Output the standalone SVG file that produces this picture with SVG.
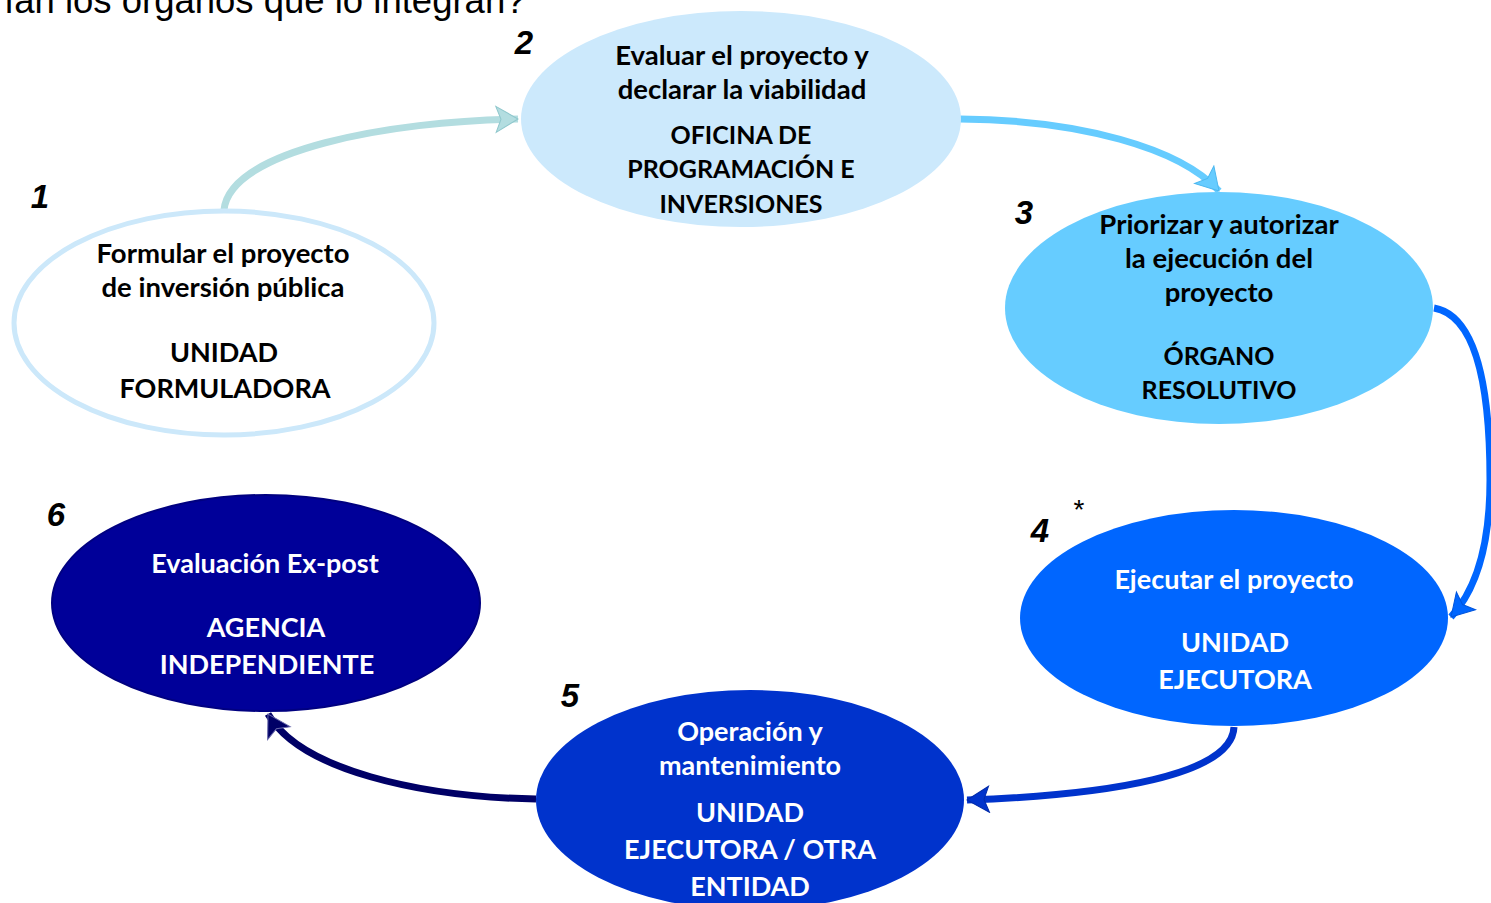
<svg xmlns="http://www.w3.org/2000/svg" width="1491" height="903" viewBox="0 0 1491 903">
<style>
.t{font-family:Lato,"Open Sans","Noto Sans",sans-serif;font-weight:bold;text-anchor:middle;font-size:27.5px}
.s{font-size:25px}
.b{font-size:27px}
.w27{font-size:27px}
.k{fill:#000}
.w{fill:#fff}
.n{font-family:"Liberation Sans",Arial,sans-serif;font-weight:bold;font-style:italic;font-size:33px;fill:#000;text-anchor:middle}
.c{fill:none;stroke-width:7}
</style>
<defs>
<marker id="a1" markerUnits="userSpaceOnUse" markerWidth="32" markerHeight="32" refX="24" refY="14" orient="auto"><path d="M2,1 L24,14 L2,27 L7,14 Z" fill="#B3DDE0" stroke="#8FC7CC" stroke-width="1"/></marker>
<marker id="a2" markerUnits="userSpaceOnUse" markerWidth="32" markerHeight="32" refX="24" refY="14" orient="auto"><path d="M2,1 L24,14 L2,27 L7,14 Z" fill="#66CCFF" stroke="#4DB8F0" stroke-width="1"/></marker>
<marker id="a3" markerUnits="userSpaceOnUse" markerWidth="32" markerHeight="32" refX="24" refY="14" orient="auto"><path d="M2,1 L24,14 L2,27 L7,14 Z" fill="#0066FF" stroke="#0055DD" stroke-width="1"/></marker>
<marker id="a4" markerUnits="userSpaceOnUse" markerWidth="32" markerHeight="32" refX="24" refY="14" orient="auto"><path d="M2,1 L24,14 L2,27 L7,14 Z" fill="#0033CC" stroke="#002AAA" stroke-width="1"/></marker>
<marker id="a5" markerUnits="userSpaceOnUse" markerWidth="32" markerHeight="32" refX="24" refY="14" orient="auto"><path d="M2,1 L24,14 L2,27 L7,14 Z" fill="#000066" stroke="#6666AA" stroke-width="1"/></marker>
</defs>
<rect width="1491" height="903" fill="#fff"/>
<text x="4" y="13" font-family="Liberation Sans,Arial,sans-serif" font-size="36.5" fill="#000">ían los órganos que lo integran?</text>

<g id="connectors">
<path class="c" stroke="#B3DDE0" d="M224,210 C230,150 390,121 518,119" marker-end="url(#a1)"/>
<path class="c" stroke="#66CCFF" d="M960,119 C1080,120 1180,148 1219,191" marker-end="url(#a2)"/>
<path class="c" stroke="#0066FF" d="M1434,308 C1480,316 1490,400 1490,480 C1490,545 1476,590 1451,617" marker-end="url(#a3)"/>
<path class="c" stroke="#0033CC" d="M1234,727 C1232,775 1110,795 967,800" marker-end="url(#a4)"/>
<path class="c" stroke="#000066" d="M536,799 C420,797 300,770 268,714" marker-end="url(#a5)"/>
</g>

<g id="node1">
<ellipse cx="224" cy="323" rx="210" ry="112" fill="#fff" stroke="#CCE8FA" stroke-width="5"/>
<text class="t k" x="223" y="263">Formular el proyecto</text>
<text class="t k" x="223" y="297">de inversión pública</text>
<text class="t b k" x="224" y="362">UNIDAD</text>
<text class="t b k" x="225" y="398">FORMULADORA</text>
<text class="n" x="40" y="208">1</text>
</g>

<g id="node2">
<ellipse cx="741" cy="119" rx="220" ry="108" fill="#CCE9FC"/>
<text class="t k" x="742" y="65">Evaluar el proyecto y</text>
<text class="t k" x="742" y="99">declarar la viabilidad</text>
<text class="t s k" x="741" y="144">OFICINA DE</text>
<text class="t s k" x="741" y="178">PROGRAMACIÓN E</text>
<text class="t s k" x="741" y="213">INVERSIONES</text>
<text class="n" x="524" y="54">2</text>
</g>

<g id="node3">
<ellipse cx="1219" cy="308" rx="214" ry="116" fill="#66CCFF"/>
<text class="t k" x="1219" y="234">Priorizar y autorizar</text>
<text class="t k" x="1219" y="268">la ejecución del</text>
<text class="t k" x="1219" y="302">proyecto</text>
<text class="t s k" x="1219" y="365">ÓRGANO</text>
<text class="t s k" x="1219" y="399">RESOLUTIVO</text>
<text class="n" x="1024" y="224">3</text>
</g>

<g id="node4">
<ellipse cx="1234" cy="618" rx="214" ry="108" fill="#0066FF"/>
<text class="t w27 w" x="1234" y="589">Ejecutar el proyecto</text>
<text class="t b w" x="1235" y="652">UNIDAD</text>
<text class="t b w" x="1235" y="689">EJECUTORA</text>
<text class="n" x="1040" y="542">4</text>
<text x="1079" y="519" font-family="Liberation Sans,Arial,sans-serif" font-size="28" fill="#000" text-anchor="middle">*</text>
</g>

<g id="node5">
<ellipse cx="750" cy="800" rx="214" ry="110" fill="#0033CC"/>
<text class="t w27 w" x="750" y="741">Operación y</text>
<text class="t w27 w" x="750" y="775">mantenimiento</text>
<text class="t b w" x="750" y="822">UNIDAD</text>
<text class="t b w" x="750" y="859">EJECUTORA / OTRA</text>
<text class="t b w" x="750" y="896">ENTIDAD</text>
<text class="n" x="570" y="707">5</text>
</g>

<g id="node6">
<ellipse cx="266" cy="603" rx="214" ry="108" fill="#000099" stroke="#000080" stroke-width="2"/>
<text class="t w27 w" x="265" y="573">Evaluación Ex-post</text>
<text class="t b w" x="266" y="637">AGENCIA</text>
<text class="t b w" x="267" y="674">INDEPENDIENTE</text>
<text class="n" x="56" y="526">6</text>
</g>
</svg>
